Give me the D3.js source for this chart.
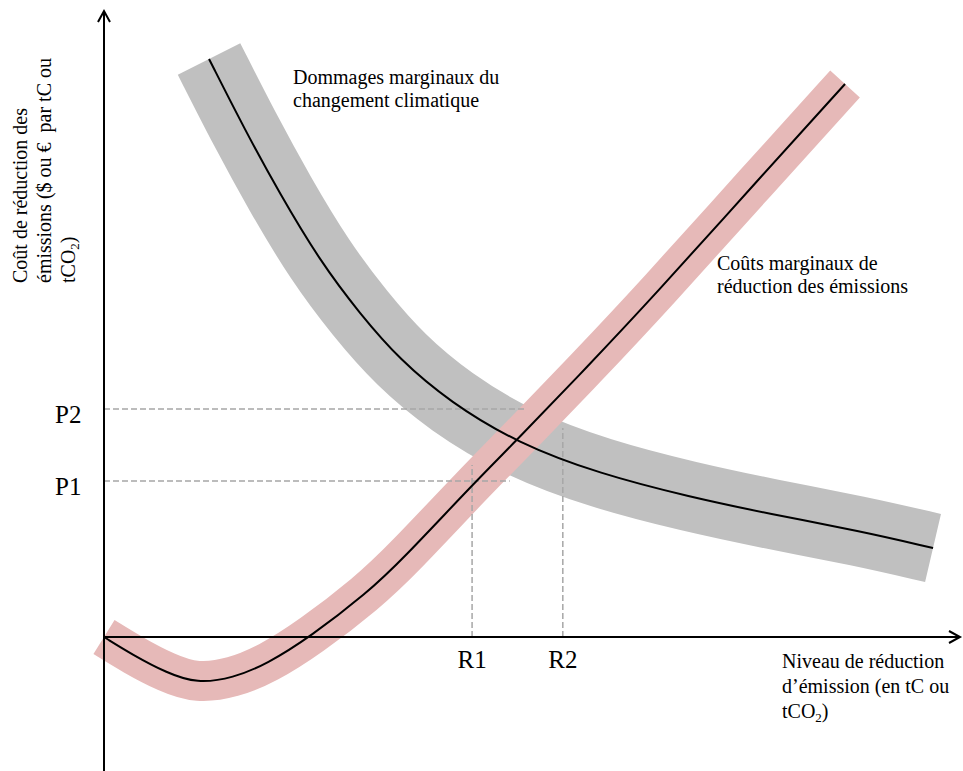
<!DOCTYPE html>
<html>
<head>
<meta charset="utf-8">
<script src="https://cdn.jsdelivr.net/npm/d3@7/dist/d3.min.js"></script>
<style>
  html, body { margin: 0; padding: 0; background: #fff; }
  text { font-family: "Liberation Serif", "Times New Roman", serif; fill: #000; }
</style>
</head>
<body>
<svg id="chart" width="963" height="771"></svg>
<script>
// --- Data (abstract units: x = emission reduction level, y = cost) ---
const damageX = [12.27, 16.47, 20.56, 25.23, 29.91, 34.58, 40.42, 48.25, 57.94, 68.46, 77.80, 88.32, 96.85];
const damageY = [90.74, 79.59, 69.54, 59.03, 50.71, 43.49, 36.89, 30.46, 25.59, 21.98, 19.31, 16.64, 13.97];

const costX = [0, 3.39, 7.36, 10.86, 15.07, 19.04, 24.07, 30.72, 34.81, 43.34, 48.25, 56.43, 64.14, 76.40, 86.57];
const costY = [0, -2.83, -5.65, -7.30, -6.44, -4.24, 0, 6.91, 12.09, 24.33, 30.93, 42.39, 53.38, 71.74, 86.81];

const priceLabels = ["P1", "P2"];
const priceValues = [24.5, 35.8];
const priceLineEnds = [47.4, 49.4];

const reductionLabels = ["R1", "R2"];
const reductionValues = [43.0, 53.6];
const reductionLineEnds = [27.0, 32.8];

const damageLabel = ["Dommages marginaux du", "changement climatique"];
const costLabel = ["Coûts marginaux de", "réduction des émissions"];

// --- Scales ---
const x = d3.scaleLinear().domain([0, 100]).range([104, 960]);
const y = d3.scaleLinear().domain([0, 100]).range([637, 0]);

const svg = d3.select("#chart");

const damage = damageX.map((d, i) => [d, damageY[i]]);
const cost = costX.map((d, i) => [d, costY[i]]);

const line = d3.line().x(d => x(d[0])).y(d => y(d[1])).curve(d3.curveBasis);

// Bands
svg.append("path").attr("d", line(damage))
  .attr("fill", "none").attr("stroke", "#c0c0c0").attr("stroke-width", 70).attr("stroke-linecap", "butt");
svg.append("path").attr("d", line(cost))
  .attr("fill", "none").attr("stroke", "#e6b9b8").attr("stroke-width", 40).attr("stroke-linecap", "butt");

// Dashed guide lines
priceValues.forEach((p, i) => {
  svg.append("line")
    .attr("x1", x(0)).attr("x2", x(priceLineEnds[i]))
    .attr("y1", y(p)).attr("y2", y(p))
    .attr("stroke", "#a6a6a6").attr("stroke-width", 1.5).attr("stroke-dasharray", "6,3");
  svg.append("text").attr("x", 55).attr("y", y(p) + 14)
    .attr("font-size", 25).text(priceLabels[i]);
});
reductionValues.forEach((r, i) => {
  svg.append("line")
    .attr("x1", x(r)).attr("x2", x(r))
    .attr("y1", y(0)).attr("y2", y(reductionLineEnds[i]))
    .attr("stroke", "#a6a6a6").attr("stroke-width", 1.5).attr("stroke-dasharray", "6,3");
  svg.append("text").attr("x", x(r)).attr("y", 668)
    .attr("text-anchor", "middle").attr("font-size", 25).text(reductionLabels[i]);
});

// Center curves
svg.append("path").attr("d", line(damage))
  .attr("fill", "none").attr("stroke", "#000").attr("stroke-width", 2);
svg.append("path").attr("d", line(cost))
  .attr("fill", "none").attr("stroke", "#000").attr("stroke-width", 2);

// Axes with open arrowheads
const ax = svg.append("g").attr("stroke", "#000").attr("stroke-width", 2).attr("fill", "none");
ax.append("line").attr("x1", x(0)).attr("x2", x(0)).attr("y1", 771).attr("y2", 11);
ax.append("path").attr("d", `M${x(0) - 6},${22} L${x(0)},${11} L${x(0) + 6},${22}`);
ax.append("line").attr("x1", x(0)).attr("x2", x(100)).attr("y1", y(0)).attr("y2", y(0));
ax.append("path").attr("d", `M${x(100) - 11},${y(0) - 6} L${x(100)},${y(0)} L${x(100) - 11},${y(0) + 6}`);

// Curve labels
const t1 = svg.append("text").attr("font-size", 20);
damageLabel.forEach((s, i) => t1.append("tspan").attr("x", 293).attr("y", 84 + i * 23).text(s));
const t2 = svg.append("text").attr("font-size", 20);
costLabel.forEach((s, i) => t2.append("tspan").attr("x", 717).attr("y", 270 + i * 23).text(s));

// X axis title
const xt = svg.append("text").attr("font-size", 20);
xt.append("tspan").attr("x", 782).attr("y", 668).text("Niveau de réduction");
xt.append("tspan").attr("x", 782).attr("y", 693).text("d’émission (en tC ou");
xt.append("tspan").attr("x", 782).attr("y", 718).text("tCO");
xt.append("tspan").attr("font-size", 13).attr("dy", 4).text("2");
xt.append("tspan").attr("dy", -4).text(")");

// Y axis title (rotated)
const yg = svg.append("g").attr("transform", "translate(27,283) rotate(-90)");
const yt = yg.append("text").attr("font-size", 20);
yt.append("tspan").attr("x", 0).attr("y", 0).text("Coût de réduction des");
yt.append("tspan").attr("x", 0).attr("y", 24).text("émissions ($ ou €\u00a0 par tC ou");
yt.append("tspan").attr("x", 0).attr("y", 48).text("tCO");
yt.append("tspan").attr("font-size", 13).attr("dy", 4).text("2");
yt.append("tspan").attr("dy", -4).text(")");
</script>
</body>
</html>
